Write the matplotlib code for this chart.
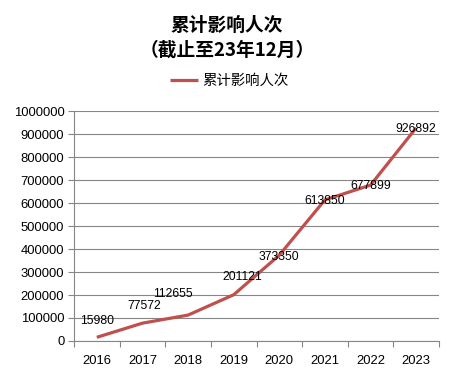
import matplotlib
matplotlib.use("Agg")
import matplotlib.pyplot as plt

plt.rcParams['font.family'] = ['Liberation Sans', 'Noto Sans CJK SC', 'DejaVu Sans']

years = ['2016', '2017', '2018', '2019', '2020', '2021', '2022', '2023']
counts = [15980, 77572, 112655, 201121, 373350, 613850, 677899, 926892]
series_name = '累计影响人次'

# label offsets in points (dx, dy), Excel put them a bit irregularly
label_offsets = [(0, 12), (1, 12), (-11, 15), (6, 13), (0, -1), (0, -1), (0, -1), (0, -1)]

fig = plt.figure(figsize=(4.54, 3.77), dpi=100)
ax = fig.add_axes([0.163, 0.0955, 0.804, 0.61])

x = list(range(len(years)))
line, = ax.plot(x, counts, color='#C0504D', lw=2.3, solid_capstyle='butt')

for i, v in enumerate(counts):
    dx, dy = label_offsets[i]
    ax.annotate(str(v), (x[i], v), xytext=(dx, dy), textcoords='offset points',
                ha='center', va='center', fontsize=8.7, color='black')

ax.set_xlim(-0.5, len(years) - 0.5)
ax.set_ylim(0, 1000000)
ax.set_yticks(range(0, 1000001, 100000))
ax.set_yticklabels([str(t) for t in range(0, 1000001, 100000)], fontsize=9.4)
ax.set_xticks(x)
ax.set_xticklabels(years, fontsize=9.4)
ax.set_xticks([i - 0.5 for i in range(len(years) + 1)], minor=True)
ax.tick_params(axis='x', which='major', length=0, pad=10)
ax.tick_params(axis='x', which='minor', length=4, color='#868686', width=0.8)
ax.tick_params(axis='y', length=4, color='#868686', width=0.8, pad=3)
ax.grid(axis='y', color='#868686', lw=0.8)
ax.set_axisbelow(True)
for s in ['top', 'right']:
    ax.spines[s].set_visible(False)
for s in ['left', 'bottom']:
    ax.spines[s].set_color('#868686')
    ax.spines[s].set_linewidth(0.8)

fig.text(0.5, 1 - 25 / 377, '累计影响人次', ha='center', va='center',
         fontsize=13.5, fontweight='bold', family=['Noto Sans CJK SC', 'DejaVu Sans'])
fig.text(0.5, 1 - 50 / 377, '（截止至23年12月）', ha='center', va='center',
         fontsize=13.5, fontweight='bold', family=['Noto Sans CJK SC', 'DejaVu Sans'])

fig.legend([line], [series_name], loc='center', bbox_to_anchor=(0.505, 1 - 81 / 377),
           frameon=False, fontsize=10.4, handlelength=2.0, handletextpad=0.3,
           prop={'family': ['Noto Sans CJK SC', 'DejaVu Sans'], 'size': 10.4})

fig.savefig('out.png', dpi=100)
